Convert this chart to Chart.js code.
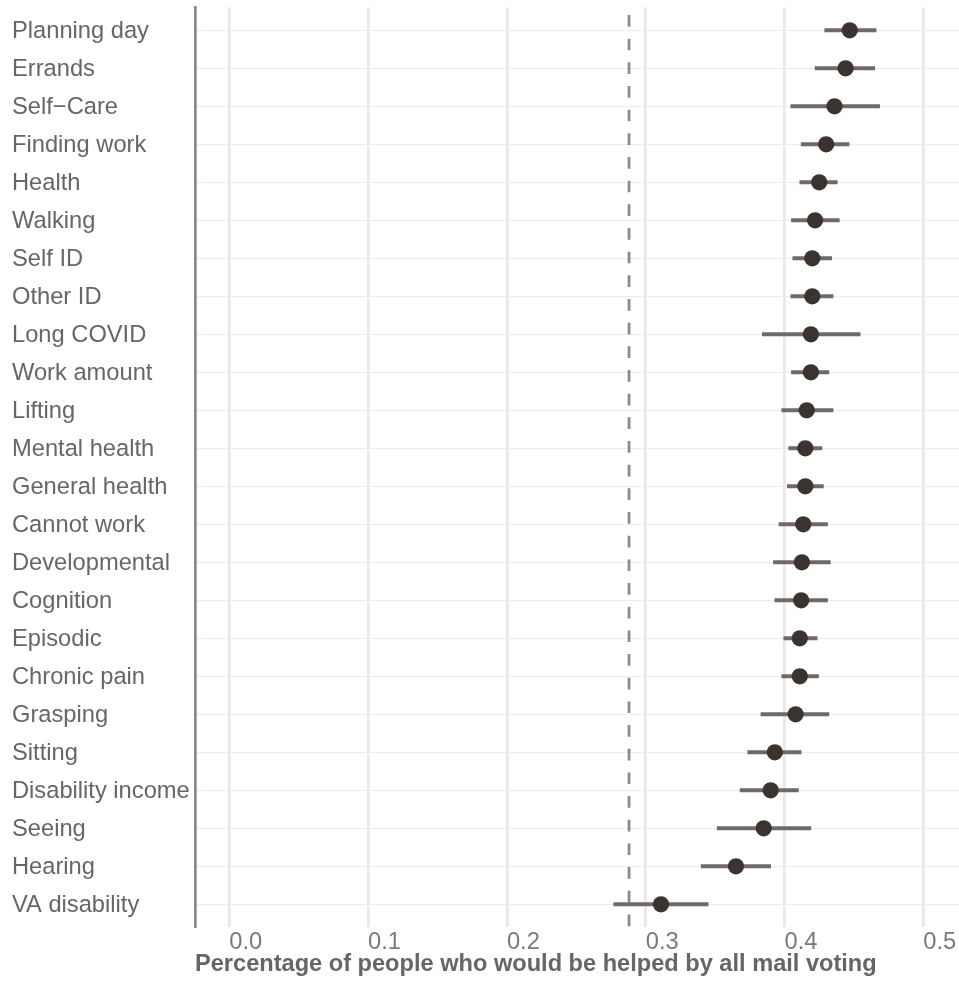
<!DOCTYPE html>
<html>
<head>
<meta charset="utf-8">
<script src="https://cdn.jsdelivr.net/npm/chart.js@4/dist/chart.umd.min.js"></script>
<style>
  html, body { margin: 0; padding: 0; background: #ffffff; }
  #wrap { width: 959px; height: 982px; position: relative; }
</style>
</head>
<body>
<div id="wrap"><canvas id="chart"></canvas></div>
<script>
// Disability categories, top to bottom
const categories = [
  'Planning day', 'Errands', 'Self\u2212Care', 'Finding work', 'Health', 'Walking',
  'Self ID', 'Other ID', 'Long COVID', 'Work amount', 'Lifting', 'Mental health',
  'General health', 'Cannot work', 'Developmental', 'Cognition', 'Episodic',
  'Chronic pain', 'Grasping', 'Sitting', 'Disability income', 'Seeing', 'Hearing',
  'VA disability'
];

// Point estimates and interval bounds (share helped by all mail voting)
const estimates = [
  0.447, 0.444, 0.436, 0.430, 0.425, 0.422, 0.420, 0.420, 0.419, 0.419, 0.416, 0.415,
  0.415, 0.4135, 0.4125, 0.412, 0.411, 0.411, 0.408, 0.393, 0.390, 0.385, 0.365, 0.311
];
const lower = [
  0.429, 0.422, 0.4045, 0.412, 0.411, 0.405, 0.406, 0.4045, 0.384, 0.405, 0.398, 0.403,
  0.402, 0.396, 0.392, 0.393, 0.3995, 0.398, 0.383, 0.3735, 0.368, 0.3515, 0.340, 0.277
];
const upper = [
  0.466, 0.465, 0.4685, 0.4465, 0.438, 0.4395, 0.434, 0.435, 0.4545, 0.432, 0.435, 0.427,
  0.428, 0.431, 0.433, 0.431, 0.4235, 0.4245, 0.432, 0.412, 0.410, 0.419, 0.390, 0.345
];

// Reference level drawn as a dashed vertical rule
const referenceValue = 0.288;

// Axis ticks
const xTickValues = [0.0, 0.1, 0.2, 0.3, 0.4, 0.5];
const xTickLabels = ['0.0', '0.1', '0.2', '0.3', '0.4', '0.5'];

const X_MIN = -0.0247, X_MAX = 0.5257;
const Y_MIN = -0.6, Y_MAX = categories.length - 1 + 0.6;

const FONT = '"Liberation Sans", Arial, Helvetica, sans-serif';
const FS = 23.7;

new Chart(document.getElementById('chart'), {
  type: 'scatter',
  data: {
    datasets: [
      {
        type: 'scatter',
        order: 0,
        data: estimates.map((v, i) => ({ x: v, y: i })),
        pointRadius: 8.15,
        pointHoverRadius: 8.15,
        backgroundColor: '#3b3330',
        borderWidth: 0
      },
      {
        type: 'bar',
        order: 1,
        indexAxis: 'y',
        data: lower.map((lo, i) => ({ y: i, x: [lo, upper[i]] })),
        backgroundColor: '#6f6a67',
        barThickness: 3.4,
        borderWidth: 0
      },
      {
        type: 'line',
        order: 2,
        data: [{ x: referenceValue, y: Y_MIN }, { x: referenceValue, y: Y_MAX }],
        borderColor: '#8e8a88',
        borderWidth: 2.8,
        borderDash: [11.7, 11.97],
        borderDashOffset: 16.2,
        pointRadius: 0,
        fill: false
      }
    ]
  },
  options: {
    responsive: true,
    maintainAspectRatio: false,
    devicePixelRatio: 1,
    animation: false,
    layout: { autoPadding: false, padding: { left: 12, right: 0, top: 7.5, bottom: 0 } },
    plugins: {
      legend: { display: false },
      tooltip: { enabled: false }
    },
    scales: {
      x: {
        type: 'linear',
        offset: false,
        min: X_MIN,
        max: X_MAX,
        afterBuildTicks: (s) => { s.ticks = xTickValues.map(v => ({ value: v })); },
        afterFit: (s) => { s.height = 54.9; s.paddingLeft = 0; s.paddingRight = 0; },
        border: { display: false },
        grid: { offset: false, color: '#ebe7e4', lineWidth: 2.7, drawTicks: false },
        ticks: {
          align: 'start',
          padding: 1,
          autoSkip: false,
          maxRotation: 0,
          color: '#7a7a7a',
          font: { family: FONT, size: FS },
          callback: (v, i) => xTickLabels[i]
        },
        title: {
          display: true,
          text: 'Percentage of people who would be helped by all mail voting',
          align: 'start',
          color: '#666666',
          font: { family: FONT, size: 23.6, weight: 'bold' },
          padding: { top: 0, bottom: 3 }
        }
      },
      y: {
        type: 'linear',
        offset: false,
        reverse: true,
        min: Y_MIN,
        max: Y_MAX,
        afterBuildTicks: (s) => { s.ticks = categories.map((_, i) => ({ value: i })); },
        afterFit: (s) => { s.width = 183; s.paddingTop = 0; s.paddingBottom = 0; },
        border: { display: true, color: '#8d8989', width: 2.7 },
        grid: { offset: false, color: '#efebe9', lineWidth: 1, drawTicks: false },
        ticks: {
          crossAlign: 'far',
          labelOffset: 1.5,
          autoSkip: false,
          color: '#666666',
          font: { family: FONT, size: FS },
          callback: (v) => categories[v]
        }
      }
    }
  }
});
</script>
</body>
</html>
